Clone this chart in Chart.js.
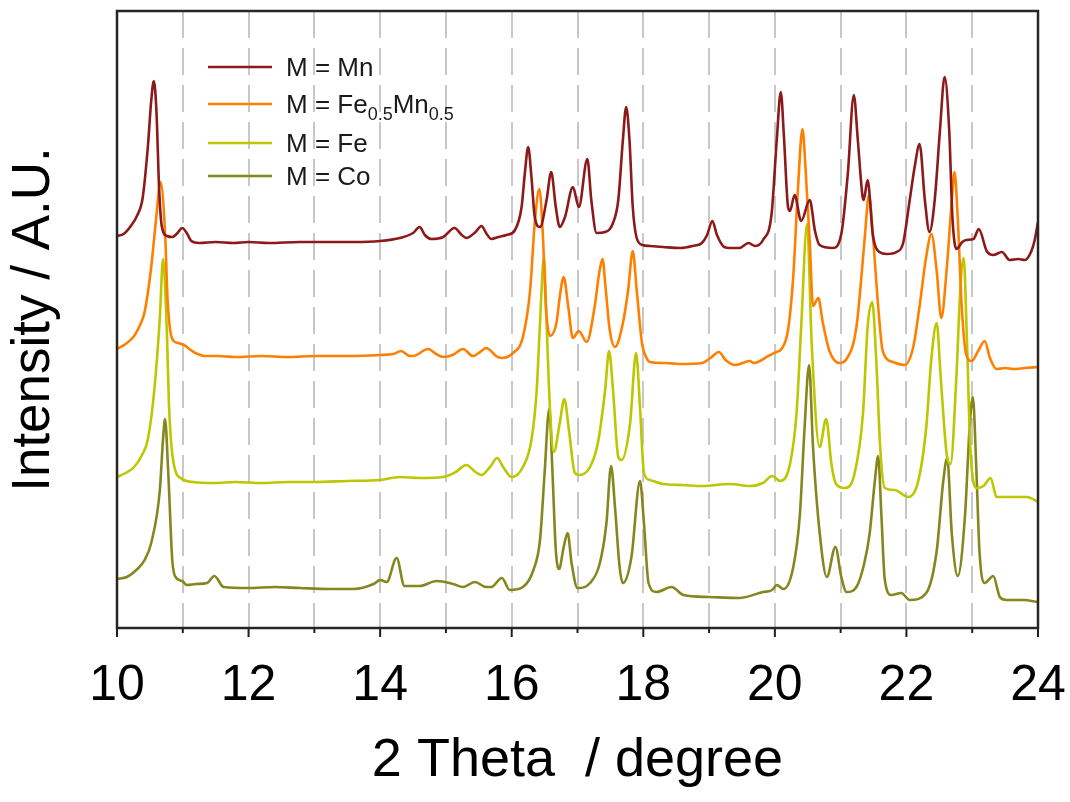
<!DOCTYPE html>
<html>
<head>
<meta charset="utf-8">
<title>XRD patterns</title>
<script src="https://cdn.jsdelivr.net/npm/chart.js@4.4.1/dist/chart.umd.min.js"></script>
<style>
  html, body { margin: 0; padding: 0; background: #ffffff; }
  #wrap { width: 1070px; height: 802px; }
</style>
</head>
<body>
<div id="wrap"><canvas id="xrd" width="1070" height="802"></canvas></div>
<script>
// 2θ (degree) and stacked intensity (A.U.) for each M compound
const thetaMn = [10.00,10.10,10.21,10.31,10.39,10.47,10.52,10.56,10.60,10.64,10.68,10.76,10.84,10.92,10.99,11.06,11.13,11.25,11.50,11.77,12.00,12.30,12.78,13.20,13.60,14.00,14.30,14.50,14.60,14.68,14.78,14.96,15.13,15.24,15.31,15.45,15.54,15.62,15.69,15.80,15.92,16.05,16.15,16.20,16.25,16.30,16.35,16.43,16.53,16.60,16.67,16.73,16.81,16.93,17.02,17.15,17.21,17.29,17.42,17.54,17.62,17.69,17.74,17.79,17.84,17.90,17.99,18.10,18.30,18.56,18.75,18.89,18.97,19.05,19.12,19.23,19.32,19.46,19.60,19.70,19.82,19.95,20.03,20.09,20.14,20.20,20.23,20.30,20.40,20.53,20.61,20.68,20.88,21.01,21.11,21.20,21.26,21.33,21.35,21.41,21.49,21.59,21.70,21.85,21.95,22.05,22.13,22.20,22.28,22.35,22.43,22.51,22.58,22.65,22.70,22.76,22.85,22.91,23.02,23.10,23.22,23.32,23.45,23.57,23.70,23.80,23.90,23.95,24.00];
const intensityMn = [392,394,402,413,430,482,527,547,516,440,402,392,391,395,400,395,387,385,386,385,386,385,386,386,386,387,390,395,401,393,389,391,400,393,390,396,402,394,389,391,393,398,421,455,481,451,411,401,428,456,421,401,411,441,421,469,428,395,396,405,428,488,521,488,421,390,383,382,381,380,382,385,393,407,393,381,380,380,385,382,388,414,489,536,489,421,417,433,407,428,397,383,380,394,455,533,489,433,428,448,393,376,374,376,385,428,463,484,428,396,428,498,551,498,410,379,386,388,389,399,377,373,376,368,369,368,377,388,406];

const thetaFeMn = [10.00,10.13,10.26,10.35,10.42,10.52,10.60,10.66,10.73,10.77,10.84,10.93,11.02,11.10,11.19,11.35,11.52,11.80,12.20,12.60,13.00,13.50,14.00,14.20,14.32,14.45,14.50,14.73,14.85,14.96,15.10,15.26,15.41,15.52,15.61,15.67,15.76,15.85,16.02,16.17,16.28,16.35,16.42,16.47,16.52,16.58,16.68,16.73,16.79,16.86,16.93,17.02,17.14,17.26,17.33,17.38,17.43,17.49,17.57,17.69,17.77,17.84,17.90,17.98,18.05,18.10,18.33,18.60,18.90,19.02,19.15,19.25,19.40,19.62,19.68,19.90,20.02,20.10,20.20,20.28,20.35,20.42,20.47,20.53,20.58,20.66,20.73,20.83,20.98,21.09,21.24,21.34,21.37,21.43,21.49,21.57,21.64,21.80,21.97,22.10,22.20,22.30,22.38,22.46,22.53,22.61,22.69,22.73,22.78,22.84,22.91,22.99,23.09,23.19,23.27,23.37,23.50,23.62,23.80,24.00];
const intensityFeMn = [279,284,292,303,316,361,413,446,396,327,289,285,283,279,275,272,272,271,272,271,272,272,273,274,277,272,272,279,274,271,273,279,272,276,280,278,272,270,275,291,338,405,439,398,321,292,305,331,351,321,290,297,286,321,355,369,338,298,281,305,338,377,338,285,270,266,265,264,265,270,276,268,263,267,265,272,276,279,298,352,438,499,455,387,322,330,305,277,265,269,301,370,393,433,393,322,277,266,263,280,322,371,394,357,310,357,428,456,410,322,273,267,277,287,270,259,260,259,260,261];

const thetaFe = [10.00,10.13,10.26,10.38,10.47,10.57,10.65,10.70,10.76,10.79,10.86,10.99,11.16,11.47,11.80,12.20,12.60,13.00,13.50,14.00,14.30,14.60,14.96,15.15,15.31,15.45,15.54,15.67,15.78,15.87,16.00,16.17,16.30,16.38,16.43,16.49,16.53,16.58,16.64,16.73,16.80,16.87,16.96,17.03,17.19,17.31,17.42,17.48,17.54,17.62,17.67,17.80,17.89,17.95,18.01,18.10,18.30,18.60,18.89,19.32,19.62,19.82,19.96,20.08,20.23,20.33,20.40,20.49,20.56,20.68,20.78,20.86,20.93,21.06,21.21,21.34,21.41,21.48,21.54,21.60,21.67,21.82,22.03,22.18,22.30,22.38,22.46,22.52,22.61,22.67,22.76,22.82,22.87,22.92,22.97,23.07,23.17,23.28,23.37,23.50,23.62,23.83,24.00];
const intensityFe = [151,155,161,173,189,240,309,369,292,223,165,149,146,145,146,145,146,146,147,148,151,150,151,156,163,156,153,161,170,161,151,161,188,238,305,371,305,221,176,205,229,198,155,153,161,185,238,277,238,171,168,205,275,221,155,148,144,143,142,144,142,145,152,147,164,215,301,404,284,181,209,164,144,140,154,215,301,326,270,182,140,138,131,147,200,270,305,252,175,164,252,340,370,287,182,140,142,150,131,131,131,131,126];

const thetaCo = [10.00,10.15,10.31,10.42,10.52,10.65,10.70,10.73,10.78,10.84,10.89,10.99,11.06,11.20,11.37,11.48,11.62,12.00,12.40,12.78,13.20,13.60,13.90,14.00,14.10,14.25,14.37,14.60,14.86,15.11,15.26,15.44,15.61,15.69,15.85,15.97,16.17,16.33,16.43,16.50,16.57,16.62,16.67,16.72,16.79,16.85,16.91,17.00,17.19,17.34,17.44,17.51,17.57,17.64,17.69,17.82,17.95,18.01,18.08,18.20,18.43,18.61,19.00,19.46,19.82,19.96,20.03,20.13,20.28,20.38,20.45,20.52,20.58,20.68,20.79,20.92,21.01,21.09,21.24,21.36,21.44,21.52,21.57,21.62,21.67,21.77,21.92,22.05,22.30,22.46,22.56,22.62,22.69,22.78,22.89,22.96,23.01,23.06,23.11,23.19,23.32,23.42,23.52,23.78,24.00];
const intensityCo = [49,51,59,68,85,137,189,209,154,68,51,47,43,44,45,52,41,40,41,40,39,39,44,48,46,70,42,42,47,44,41,46,41,41,50,38,41,58,88,155,219,155,78,59,81,95,65,40,45,65,105,162,121,61,45,71,147,105,45,36,41,33,31,30,36,38,43,39,61,113,198,263,181,96,51,81,51,36,41,65,94,147,172,112,49,33,35,28,35,77,147,170,94,52,112,200,231,164,77,45,52,31,28,28,26];

const seriesLabels = ['M = Mn', 'M = Fe_{0.5}Mn_{0.5}', 'M = Fe', 'M = Co'];
const seriesColors = ['#8c1a1a', '#ff8000', '#bcc700', '#86861f'];
const xTickLabels = [10, 12, 14, 16, 18, 20, 22, 24];

const FONT = '"Liberation Sans", Arial, Helvetica, sans-serif';

function toPoints(xs, ys) {
  return xs.map((x, i) => ({ x: x, y: ys[i] }));
}

const seriesData = [
  toPoints(thetaMn, intensityMn),
  toPoints(thetaFeMn, intensityFeMn),
  toPoints(thetaFe, intensityFe),
  toPoints(thetaCo, intensityCo)
];

// draws "text_{sub}" with real subscripts
function drawRichText(ctx, text, x, y, size) {
  const parts = text.split(/(_\{[^}]*\})/);
  for (const p of parts) {
    if (!p) continue;
    if (p.startsWith('_{')) {
      const s = p.slice(2, -1);
      ctx.font = Math.round(size * 0.7) + 'px ' + FONT;
      ctx.fillText(s, x, y + size * 0.27);
      x += ctx.measureText(s).width;
    } else {
      ctx.font = size + 'px ' + FONT;
      ctx.fillText(p, x, y);
      x += ctx.measureText(p).width;
    }
  }
}

// frame, minor/major tick marks and the in-plot legend
const framePlugin = {
  id: 'framePlugin',
  afterDatasetsDraw(chart, args, opts) {
    const { ctx, chartArea: a } = chart;
    const xs = chart.scales.x;
    ctx.save();

    ctx.strokeStyle = '#1e1e1e';
    ctx.lineWidth = 2;
    xs.ticks.forEach(t => {
      const px = xs.getPixelForValue(t.value);
      const major = xTickLabels.includes(Math.round(t.value));
      ctx.beginPath();
      ctx.moveTo(px, a.bottom);
      ctx.lineTo(px, a.bottom + (major ? opts.majorLen : opts.minorLen));
      ctx.stroke();
    });

    ctx.lineWidth = 2.5;
    ctx.strokeStyle = '#262626';
    ctx.strokeRect(a.left, a.top, a.right - a.left, a.bottom - a.top);

    ctx.textBaseline = 'alphabetic';
    ctx.textAlign = 'left';
    chart.data.datasets.forEach((ds, i) => {
      const y = opts.rows[i];
      ctx.strokeStyle = ds.borderColor;
      ctx.lineWidth = 2.6;
      ctx.beginPath();
      ctx.moveTo(a.left + opts.lineStart, y);
      ctx.lineTo(a.left + opts.lineEnd, y);
      ctx.stroke();
      ctx.fillStyle = '#1a1a1a';
      drawRichText(ctx, ds.label, a.left + opts.textStart, y + opts.fontSize * 0.36, opts.fontSize);
    });
    ctx.restore();
  }
};

new Chart(document.getElementById('xrd'), {
  type: 'line',
  data: {
    datasets: seriesData.map((pts, i) => ({
      label: seriesLabels[i],
      data: pts,
      borderColor: seriesColors[i],
      backgroundColor: seriesColors[i],
      borderWidth: 2.6,
      pointRadius: 0,
      fill: false,
      cubicInterpolationMode: 'monotone'
    }))
  },
  options: {
    responsive: false,
    animation: false,
    devicePixelRatio: 1,
    layout: { padding: { left: 0, right: 32, top: 11, bottom: 0 } },
    plugins: {
      legend: { display: false },
      tooltip: { enabled: false },
      framePlugin: {
        majorLen: 9, minorLen: 5,
        rows: [67, 104, 143, 176],
        lineStart: 91, lineEnd: 155, textStart: 169,
        fontSize: 26
      }
    },
    scales: {
      x: {
        type: 'linear',
        min: 10,
        max: 24,
        afterFit: s => { s.height = 174; s.paddingLeft = 0; s.paddingRight = 0; },
        ticks: {
          stepSize: 1,
          autoSkip: false,
          maxRotation: 0,
          padding: 28,
          color: '#000000',
          font: { family: FONT, size: 50 },
          callback: v => xTickLabels.includes(Math.round(v)) ? String(Math.round(v)) : ''
        },
        grid: {
          drawTicks: false,
          lineWidth: 2,
          color: c => (c.tick && (c.tick.value === 10 || c.tick.value === 24)) ? 'rgba(0,0,0,0)' : '#c8c8c8'
        },
        border: { display: false, dash: [27, 10] },
        title: {
          display: true,
          text: '2 Theta  / degree',
          color: '#000000',
          font: { family: FONT, size: 54 },
          padding: { top: 0, bottom: 8 }
        }
      },
      y: {
        min: 0,
        max: 617,
        afterFit: s => { s.width = 117; },
        ticks: { display: false },
        grid: { display: false },
        border: { display: false },
        title: {
          display: true,
          text: 'Intensity / A.U.',
          color: '#000000',
          font: { family: FONT, size: 53 },
          padding: { top: 3, bottom: 0 }
        }
      }
    }
  },
  plugins: [framePlugin]
});
</script>
</body>
</html>
